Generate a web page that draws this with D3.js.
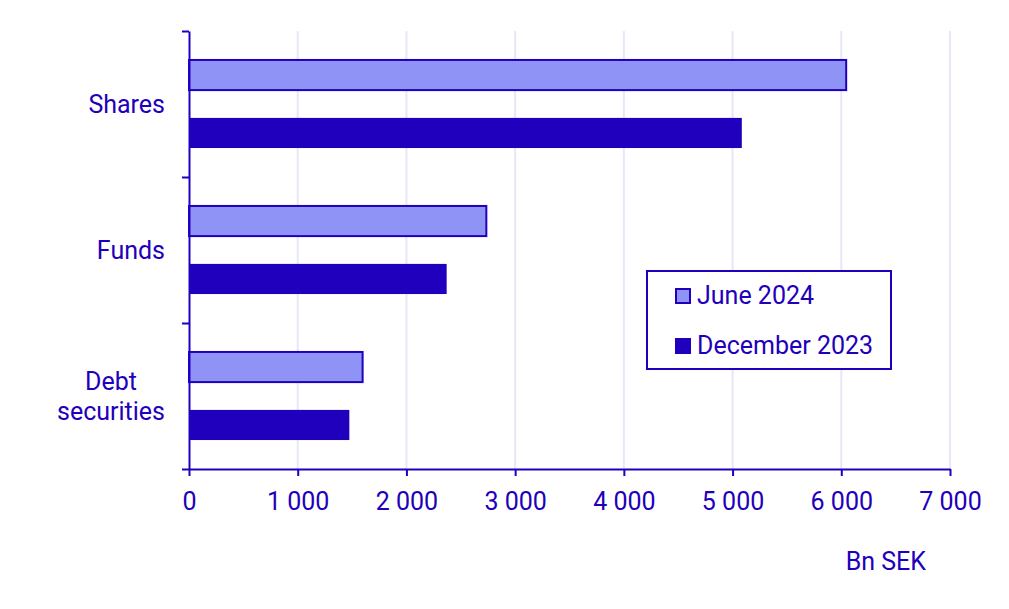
<!DOCTYPE html>
<html>
<head>
<meta charset="utf-8">
<script src="https://cdn.jsdelivr.net/npm/d3@7"></script>
<style>
  body { margin: 0; background: #fff; }
  text { font-family: Roboto, "Noto Sans", sans-serif; fill: #2200bb; }
</style>
</head>
<body>
<script>
// values (Bn SEK)
var categories = ["Shares", "Funds", "Debt securities"];
var series = ["June 2024", "December 2023"];
var june2024 = [6045, 2735, 1597];
var dec2023 = [5085, 2370, 1475];
var xTicks = [0, 1000, 2000, 3000, 4000, 5000, 6000, 7000];
var unitLabel = "Bn SEK";

var dark = "#2100bd";
var light = "#8f93f5";
var grid = "#e8e6fb";
var fontSize = "25px";

var width = 1009, height = 609;
// plot edges (not named "top" - that clashes with window.top)
var plotLeft = 189, plotRight = 950, plotTop = 31, plotBottom = 469;

var svg = d3.select("body").append("svg")
    .attr("width", width)
    .attr("height", height);

var x = d3.scaleLinear().domain([0, 7000]).range([plotLeft, plotRight]);
var y = d3.scaleBand().domain(categories).range([plotTop, plotBottom]);
var ySub = d3.scaleBand().domain(series).range([0, y.bandwidth()])
    .paddingInner(0.48).paddingOuter(0.5);

var fmt = d3.formatLocale({decimal: ",", thousands: " ", grouping: [3], currency: ["", ""]}).format(",");

// grid lines
svg.append("g").selectAll("line")
    .data(xTicks.slice(1))
    .enter()
    .append("line")
    .attr("x1", function(d){ return x(d); })
    .attr("x2", function(d){ return x(d); })
    .attr("y1", plotTop)
    .attr("y2", plotBottom)
    .attr("stroke", grid)
    .attr("stroke-width", 2);

// bars
var rows = categories.map(function(c, i){
    return [{cat: c, s: series[0], v: june2024[i]}, {cat: c, s: series[1], v: dec2023[i]}];
});
var flat = [].concat.apply([], rows);

svg.append("g").selectAll("rect")
    .data(flat)
    .enter()
    .append("rect")
    .attr("x", x(0))
    .attr("y", function(d){ return y(d.cat) + ySub(d.s); })
    .attr("width", function(d){ return x(d.v) - x(0); })
    .attr("height", ySub.bandwidth())
    .attr("fill", function(d){ return d.s === series[0] ? light : dark; })
    .attr("stroke", function(d){ return d.s === series[0] ? dark : "none"; })
    .attr("stroke-width", 2);

// x axis
var xAxis = d3.axisBottom(x)
    .tickValues(xTicks)
    .tickSizeInner(7)
    .tickSizeOuter(0)
    .tickFormat(fmt);

var gx = svg.append("g")
    .attr("transform", "translate(0," + plotBottom + ")")
    .call(xAxis);
gx.select(".domain").attr("stroke", dark).attr("stroke-width", 2);
gx.selectAll(".tick line").attr("stroke", dark).attr("stroke-width", 2);
gx.selectAll(".tick text")
    .attr("y", 41)
    .attr("dy", null)
    .attr("fill", dark)
    .style("font-size", fontSize)
    .style("font-family", "Roboto");

// y axis: ticks at category boundaries, labels drawn separately
var yb = d3.scaleLinear().domain([0, categories.length]).range([plotTop, plotBottom]);
var gy = svg.append("g")
    .attr("transform", "translate(" + plotLeft + ",0)")
    .call(d3.axisLeft(yb).ticks(categories.length).tickSizeInner(7).tickSizeOuter(0).tickFormat(""));
gy.select(".domain").attr("stroke", dark).attr("stroke-width", 2);
gy.selectAll(".tick line").attr("stroke", dark).attr("stroke-width", 2);

// category labels - wrapped lines are centred on each other, block right-aligned
var labelRight = plotLeft - 24;
var catText = svg.append("g").selectAll("text")
    .data(categories)
    .enter()
    .append("text")
    .attr("text-anchor", "middle")
    .style("font-size", fontSize);

catText.each(function(d){
    var words = d.split(" ");
    var mid = y(d) + y.bandwidth() / 2;
    var lineH = 30;
    var first = mid + 8.5 - (words.length - 1) * lineH / 2;
    var t = d3.select(this);
    var spans = words.map(function(w, k){
        return t.append("tspan")
            .attr("y", first + k * lineH)
            .text(w);
    });
    var maxW = d3.max(spans, function(s){ return s.node().getComputedTextLength(); });
    spans.forEach(function(s){ s.attr("x", labelRight - maxW / 2); });
});

// unit label
svg.append("text")
    .attr("x", 926)
    .attr("y", 570)
    .attr("text-anchor", "end")
    .style("font-size", fontSize)
    .text(unitLabel);

// legend
var legend = svg.append("g");
legend.append("rect")
    .attr("x", 647)
    .attr("y", 271)
    .attr("width", 244)
    .attr("height", 98)
    .attr("fill", "#fff")
    .attr("stroke", dark)
    .attr("stroke-width", 2);

var items = legend.selectAll("g.item")
    .data(series)
    .enter()
    .append("g")
    .attr("class", "item")
    .attr("transform", function(d, i){ return "translate(676," + (289 + i * 50) + ")"; });

items.append("rect")
    .attr("width", 14)
    .attr("height", 14)
    .attr("fill", function(d, i){ return i === 0 ? light : dark; })
    .attr("stroke", dark)
    .attr("stroke-width", 2);

items.append("text")
    .attr("x", 21)
    .attr("y", 15)
    .style("font-size", fontSize)
    .text(function(d){ return d; });
</script>
</body>
</html>
